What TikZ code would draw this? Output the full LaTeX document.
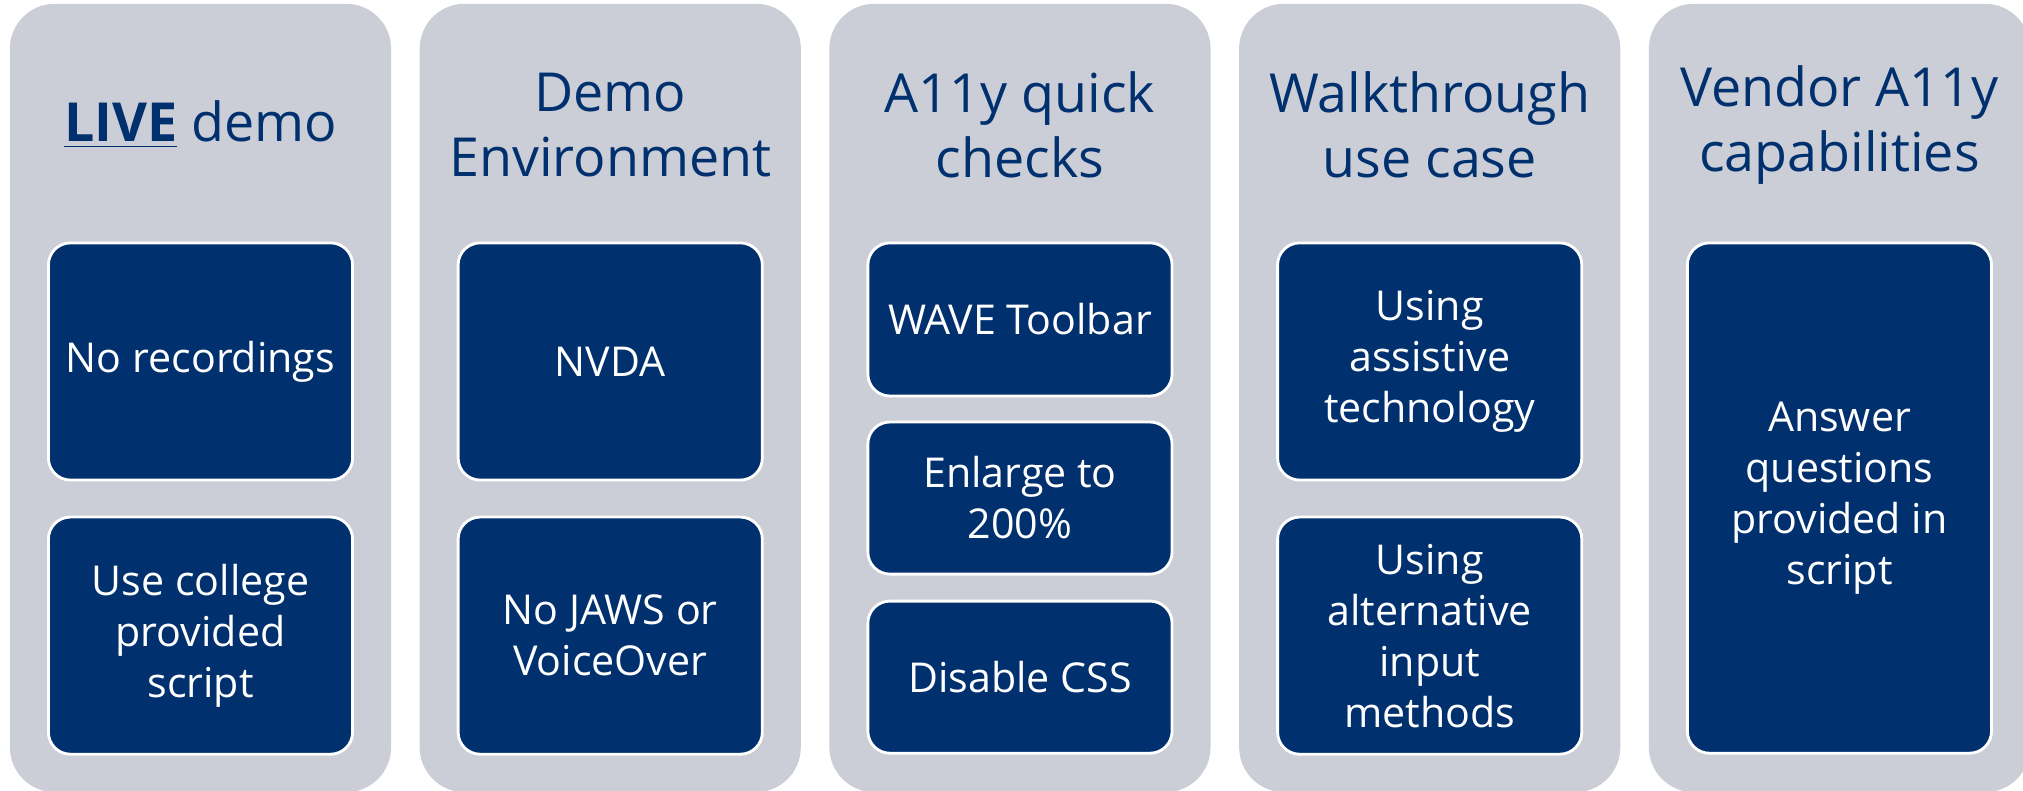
\documentclass[tikz,border=0pt]{standalone}
\usepackage{fontspec}
\setmainfont{Open Sans}
\usetikzlibrary{positioning}

\definecolor{navy}{RGB}{0,48,110}
\definecolor{panelgray}{RGB}{203,206,214}

\tikzset{
  panel/.style={fill=panelgray, rounded corners=0.45cm, minimum width=3.81cm,
    minimum height=7.88cm, inner sep=0pt, outer sep=0pt},
  title/.style={text=navy, align=center, font=\fontsize{15.3}{18.5}\selectfont},
  item/.style={draw=white, line width=0.8pt, fill=navy, text=white,
    rounded corners=0.22cm, minimum width=3.04cm, inner sep=0pt, outer sep=0pt,
    align=center, font=\fontsize{11.7}{14.5}\selectfont},
}

\begin{document}
\begin{tikzpicture}[x=0.01cm, y=-0.01cm]
  \useasboundingbox (0,0) rectangle (2023,791);

  % five grey columns
  \node[panel]         (P1) at (200.5,398) {};
  \node[panel]         (P2) [right=0.285cm of P1] {};
  \node[panel]         (P3) [right=0.285cm of P2] {};
  \node[panel]         (P4) [right=0.285cm of P3] {};
  \node[panel]         (P5) [right=0.285cm of P4] {};

  % headings
  \node[title, yshift=-1.21cm] (T1) at (P1.north) {\underline{\textbf{LIVE}} demo};
  \node[title, yshift=-1.21cm] (T2) at (P2.north) {Demo\\Environment};
  \node[title, yshift=-1.21cm] (T3) at (P3.north) {A11y quick\\checks};
  \node[title, yshift=-1.21cm] (T4) at (P4.north) {Walkthrough\\use case};
  \node[title, yshift=-1.21cm] (T5) at (P5.north) {Vendor A11y\\capabilities};

  % LIVE demo
  \node[item, minimum height=2.37cm, anchor=north, yshift=-2.39cm] (A1) at (P1.north) {No recordings};
  \node[item, minimum height=2.37cm] (A2) [below=0.37cm of A1] {Use college\\provided\\script};

  % Demo Environment
  \node[item, minimum height=2.37cm, anchor=north, yshift=-2.39cm] (B1) at (P2.north) {NVDA};
  \node[item, minimum height=2.37cm] (B2) [below=0.37cm of B1] {No JAWS or\\VoiceOver};

  % A11y quick checks
  \node[item, minimum height=1.53cm, anchor=north, yshift=-2.39cm] (C1) at (P3.north) {WAVE Toolbar};
  \node[item, minimum height=1.52cm] (C2) [below=0.26cm of C1] {Enlarge to\\200\%};
  \node[item, minimum height=1.52cm] (C3) [below=0.27cm of C2] {Disable CSS};

  % Walkthrough use case
  \node[item, minimum height=2.37cm, anchor=north, yshift=-2.39cm] (D1) at (P4.north) {Using\\assistive\\technology};
  \node[item, minimum height=2.37cm] (D2) [below=0.37cm of D1] {Using\\alternative\\input\\methods};

  % Vendor A11y capabilities
  \node[item, minimum height=5.10cm, anchor=north, yshift=-2.39cm] (E1) at (P5.north) {Answer\\questions\\provided in\\script};
\end{tikzpicture}
\end{document}
